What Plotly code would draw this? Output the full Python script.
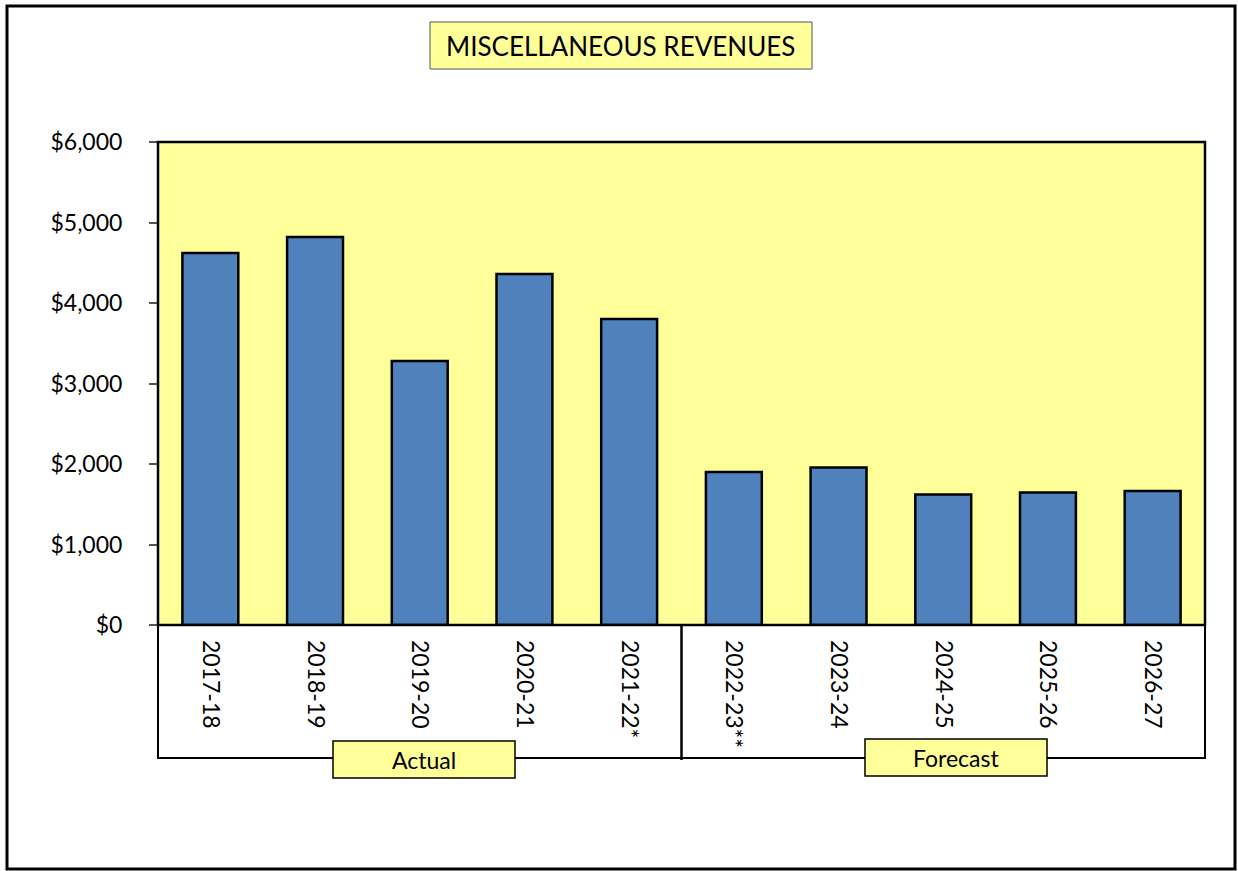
import plotly.graph_objects as go

# Fiscal years and revenue values ($)
years = ["2017-18", "2018-19", "2019-20", "2020-21", "2021-22*",
         "2022-23**", "2023-24", "2024-25", "2025-26", "2026-27"]
revenues = [4620, 4820, 3280, 4360, 3800, 1900, 1955, 1620, 1645, 1665]
y_ticks = [0, 1000, 2000, 3000, 4000, 5000, 6000]
title_text = "MISCELLANEOUS REVENUES"
group_labels = ["Actual", "Forecast"]

W, H = 1238, 871
L, R, T, B = 158, 1205, 142, 625  # plot area in pixels

def px(x):
    return (x - L) / (R - L)

def py(y):
    return (B - y) / (B - T)

FONT = "Lato, 'Open Sans', sans-serif"
YELLOW = "#FFFF99"

fig = go.Figure(go.Bar(
    x=years, y=revenues,
    marker=dict(color="#4F81BD", line=dict(color="black", width=2.5)),
))

shapes = [
    # outer frame
    dict(type="rect", xref="paper", yref="paper",
         x0=px(7), x1=px(1235), y0=py(6), y1=py(869),
         line=dict(color="black", width=3), layer="below"),
    # title box
    dict(type="rect", xref="paper", yref="paper",
         x0=px(430), x1=px(812), y0=py(22), y1=py(69),
         fillcolor=YELLOW, line=dict(color="#555555", width=1)),
    # plot frame
    dict(type="rect", xref="paper", yref="paper",
         x0=0, x1=1, y0=0, y1=1, line=dict(color="black", width=2.5)),
    # category box under the axis
    dict(type="path", xref="paper", yref="paper",
         path=f"M {px(L)} {py(B)} L {px(L)} {py(758)} L {px(R)} {py(758)} L {px(R)} {py(B)}",
         line=dict(color="black", width=2)),
    # separator between actual and forecast years
    dict(type="line", xref="x", yref="paper",
         x0=4.5, x1=4.5, y0=py(B), y1=py(760),
         line=dict(color="black", width=2.5)),
    # group label boxes
    dict(type="rect", xref="paper", yref="paper",
         x0=px(333), x1=px(515), y0=py(741), y1=py(778),
         fillcolor=YELLOW, line=dict(color="black", width=1.5)),
    dict(type="rect", xref="paper", yref="paper",
         x0=px(865), x1=px(1047), y0=py(739), y1=py(776),
         fillcolor=YELLOW, line=dict(color="black", width=1.5)),
]

annotations = [
    dict(text=title_text, xref="paper", yref="paper",
         x=px(620), y=py(46), xanchor="center", yanchor="middle",
         showarrow=False, font=dict(family=FONT, size=26, color="black")),
    dict(text=group_labels[0], xref="paper", yref="paper",
         x=px(424), y=py(760), xanchor="center", yanchor="middle",
         showarrow=False, font=dict(family=FONT, size=23, color="black")),
    dict(text=group_labels[1], xref="paper", yref="paper",
         x=px(956), y=py(758), xanchor="center", yanchor="middle",
         showarrow=False, font=dict(family=FONT, size=23, color="black")),
]

fig.update_layout(
    width=W, height=H,
    margin=dict(l=L, r=W - R, t=T, b=H - B),
    paper_bgcolor="white",
    plot_bgcolor=YELLOW,
    bargap=0.466,
    showlegend=False,
    font=dict(family=FONT, size=23, color="black"),
    shapes=shapes,
    annotations=annotations,
    xaxis=dict(
        type="category",
        tickangle=90,
        ticks="",
        showline=False,
        showgrid=False,
        ticklabelstandoff=14,
        tickfont=dict(family=FONT, size=23, color="black"),
    ),
    yaxis=dict(
        range=[0, 6000],
        tickvals=y_ticks,
        tickformat="$,.0f",
        ticks="outside",
        ticklen=8,
        tickwidth=1.5,
        tickcolor="#555555",
        showgrid=False,
        zeroline=False,
        showline=False,
        ticklabelstandoff=22,
        tickfont=dict(family=FONT, size=23, color="black"),
    ),
)

fig.write_html("out.html")
